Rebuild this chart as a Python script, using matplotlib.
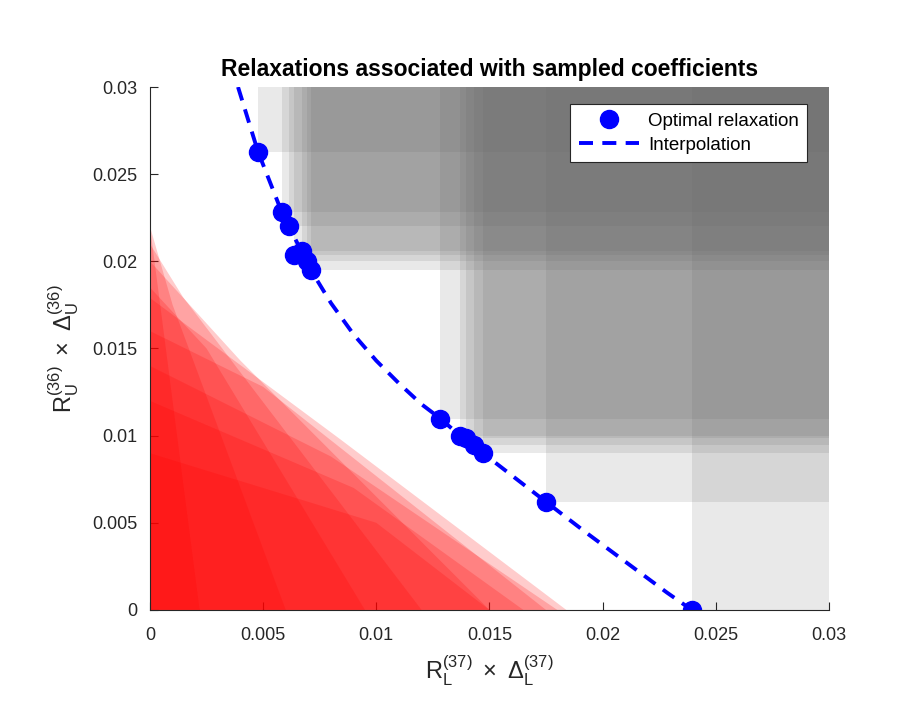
import numpy as np
import matplotlib
matplotlib.use("Agg")
import matplotlib.pyplot as plt
from matplotlib.patches import Polygon, Rectangle

plt.rcParams["font.family"] = ["Liberation Sans", "DejaVu Sans"]
plt.rcParams["mathtext.fontset"] = "custom"
plt.rcParams["mathtext.rm"] = "Liberation Sans"
plt.rcParams["mathtext.it"] = "Liberation Sans"
plt.rcParams["mathtext.sf"] = "Liberation Sans"

# optimal relaxation points (R_L*Delta_L, R_U*Delta_U)
opt_x = [0.00477, 0.00583, 0.00614, 0.00636, 0.00672, 0.00694, 0.00711,
         0.01281, 0.01370, 0.01396, 0.01431, 0.01471, 0.01750, 0.02395]
opt_y = [0.02627, 0.02283, 0.02203, 0.02036, 0.02059, 0.02002, 0.01950,
         0.01096, 0.00998, 0.00987, 0.00946, 0.00901, 0.00620, 0.0]

# interpolation curve
interp_x = [0.00389, 0.00477, 0.00583, 0.00711, 0.00800, 0.00900, 0.01000,
            0.01100, 0.01200, 0.01281, 0.01370, 0.01471, 0.01750, 0.01931,
            0.02284, 0.02394]
interp_y = [0.0300, 0.0263, 0.0228, 0.0195, 0.0176, 0.0158, 0.0143,
            0.0130, 0.0118, 0.0110, 0.0100, 0.0090, 0.0062, 0.0044,
            0.0010, 0.0]

# red feasible regions: polygon x and y lists, each starting at the origin
red_x = [
    [0, 0.0022, 0],
    [0, 0.0184, 0.0084, 0],
    [0, 0.0150, 0.0040, 0],
    [0, 0.0120, 0.00146, 0],
    [0, 0.0175, 0.0050, 0],
    [0, 0.0180, 0.0080, 0],
    [0, 0.0165, 0.0090, 0],
    [0, 0.0150, 0.0100, 0],
    [0, 0.0095, 0.0025, 0],
    [0, 0.0060, 0.0010, 0],
]
red_y = [
    [0, 0, 0.0220],
    [0, 0, 0.0098, 0.0179],
    [0, 0, 0.0143, 0.0200],
    [0, 0, 0.01795, 0.0210],
    [0, 0, 0.0128, 0.0160],
    [0, 0, 0.0088, 0.0140],
    [0, 0, 0.0070, 0.0120],
    [0, 0, 0.0050, 0.0090],
    [0, 0, 0.0150, 0.0185],
    [0, 0, 0.0175, 0.0220],
]

lim = 0.03
ticks = [0, 0.005, 0.01, 0.015, 0.02, 0.025, 0.03]
tick_labels = ["0", "0.005", "0.01", "0.015", "0.02", "0.025", "0.03"]

fig = plt.figure(figsize=(9.19, 7.15), dpi=100)
ax = fig.add_axes([0.1632, 0.1469, 0.7388, 0.7314])

# gray dominated boxes above each optimal point
for x0, y0 in zip(opt_x, opt_y):
    ax.add_patch(Rectangle((x0, y0), lim - x0, lim - y0, facecolor=(0.40, 0.40, 0.40),
                           alpha=0.14, edgecolor="none", zorder=1))

for xs, ys in zip(red_x, red_y):
    ax.add_patch(Polygon(np.column_stack([xs, ys]), closed=True, facecolor="red",
                         alpha=0.2, edgecolor="none", zorder=2))

ax.plot(interp_x, interp_y, color="blue", linestyle=(0, (3.6, 2.4)), linewidth=2.8,
        zorder=3, label="Interpolation")
ax.plot(opt_x, opt_y, "o", color="blue", markersize=13, zorder=4,
        label="Optimal relaxation")

ax.set_xlim(0, lim)
ax.set_ylim(0, lim)
ax.set_xticks(ticks)
ax.set_xticklabels(tick_labels)
ax.set_yticks(ticks)
ax.set_yticklabels(tick_labels)
ax.tick_params(direction="in", length=6, width=0.8, labelsize=13, colors="0.15",
               top=False, right=False)
ax.tick_params(axis="x", pad=12)
ax.tick_params(axis="y", pad=9)
for s in ["top", "right"]:
    ax.spines[s].set_visible(False)
for s in ["left", "bottom"]:
    ax.spines[s].set_color("0.15")
    ax.spines[s].set_linewidth(0.8)
    ax.spines[s].set_zorder(5)

ax.set_title("Relaxations associated with sampled coefficients", fontsize=16.5,
             fontweight="bold", pad=8)
ax.set_xlabel(r"$\mathregular{R_L^{(37)}\ \times\ \Delta_L^{(37)}}$", fontsize=17,
              color="0.15", labelpad=7)
ax.set_ylabel(r"$\mathregular{R_U^{(36)}\ \times\ \Delta_U^{(36)}}$", fontsize=17,
              color="0.15", labelpad=8)

handles, labels = ax.get_legend_handles_labels()
leg = ax.legend(handles[::-1], labels[::-1], loc="upper right",
                bbox_to_anchor=(0.968, 0.967), fontsize=13.5, frameon=True,
                fancybox=False, framealpha=1, edgecolor="0.15",
                handlelength=3.2, handletextpad=0.5, borderpad=0.45,
                labelspacing=0.35, borderaxespad=0)
leg.get_frame().set_linewidth(0.8)

fig.savefig("out.png", dpi=100)
